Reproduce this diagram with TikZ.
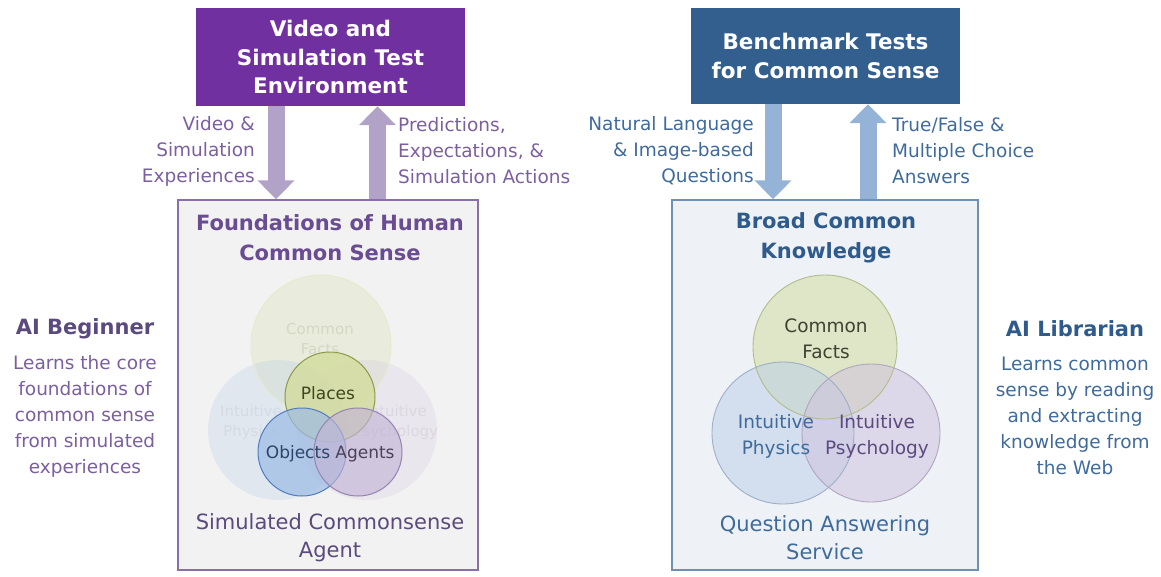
\documentclass[tikz,border=0pt]{standalone}
\usepackage{fontspec}
\setmainfont{DejaVu Sans}
\usetikzlibrary{arrows.meta}
\definecolor{envpurple}{HTML}{7030A0}
\definecolor{benchblue}{HTML}{335F8F}
\definecolor{arrowpurple}{HTML}{B3A2C7}
\definecolor{arrowblue}{HTML}{95B3D7}
\definecolor{textpurple}{HTML}{7B5F9F}
\definecolor{titlepurple}{HTML}{6A4C93}
\definecolor{darkpurple}{HTML}{5B4A7E}
\definecolor{textblue}{HTML}{3F6B9C}
\definecolor{titleblue}{HTML}{2F5B8C}
\definecolor{cfgreen}{HTML}{D2DDA2}
\definecolor{physblue}{HTML}{B9CEEA}
\definecolor{psychpurple}{HTML}{D0C3DF}
\definecolor{placesfill}{HTML}{D3DC9C}
\definecolor{placesline}{HTML}{8A9B47}
\definecolor{objfill}{HTML}{9DBBE5}
\definecolor{objline}{HTML}{4F7DC0}
\definecolor{agentfill}{HTML}{C3B5D6}
\definecolor{agentline}{HTML}{9583B0}
\begin{document}
\begin{tikzpicture}[x=1pt, y=-1pt,
  topbox/.style={text=white, font=\bfseries\fontsize{21.5}{28.5}\selectfont,
    align=center, minimum width=269, inner sep=0},
  bigbox/.style={line width=1.4pt, minimum height=370, inner sep=0},
  flowarrow/.style={line width=17pt, -{Triangle[width=36pt,length=19pt]}},
  lbl/.style={font=\fontsize{18.5}{26}\selectfont, inner sep=0},
  head/.style={font=\bfseries\fontsize{21}{30}\selectfont, align=center, inner sep=0},
  small/.style={font=\fontsize{17}{21}\selectfont, inner sep=0, align=center},
  faded/.style={font=\fontsize{15}{20}\selectfont, inner sep=0, align=center}]
\useasboundingbox (0,0) rectangle (1161,576);

% top boxes and the two agent boxes
\node[fill=envpurple, topbox, minimum height=98] (envbox) at (330.5,57) {Video and\\Simulation Test\\Environment};
\node[fill=benchblue, topbox, minimum height=96] (benchbox) at (825.5,56) {Benchmark Tests\\for Common Sense};
\node[bigbox, draw=textpurple!90, fill=black!5, minimum width=300] (agent) at (328,385) {};
\node[bigbox, draw=textblue!75, fill=titleblue!8, minimum width=306] (qa) at (825,385) {};

\draw[flowarrow, arrowpurple] ([xshift=-54.5]envbox.south) -- ([xshift=-54.5]envbox.south |- agent.north);
\draw[flowarrow, arrowpurple] ([xshift=47]envbox.south |- agent.north) -- ([xshift=47]envbox.south);
\draw[flowarrow, arrowblue] ([xshift=-52.5]benchbox.south) -- ([xshift=-52.5]benchbox.south |- qa.north);
\draw[flowarrow, arrowblue] ([xshift=42.5]benchbox.south |- qa.north) -- ([xshift=42.5]benchbox.south);

\node[lbl, text=textpurple, align=right, anchor=east] (vidlbl) at (255,151) {Video \&\\Simulation\\Experiences};
\node[lbl, text=textpurple, align=left, anchor=west] (predlbl) at (398,151) {Predictions,\\Expectations, \&\\Simulation Actions};
\node[lbl, text=textblue, align=right, anchor=east] (qlbl) at (754,151) {Natural Language\\\& Image-based\\Questions};
\node[lbl, text=textblue, align=left, anchor=west] (anslbl) at (892,151) {True/False \&\\Multiple Choice\\Answers};

\node[head, text=titlepurple] (fhcs) at (330,238) {Foundations of Human\\Common Sense};
\node[head, text=titleblue] (bck) at (826,238) {Broad Common\\Knowledge};

% left venn
\fill[cfgreen, fill opacity=.25] (321,345) circle (70);
\fill[physblue, fill opacity=.3] (278,430) circle (70);
\fill[psychpurple, fill opacity=.25] (367,430) circle (70);
\draw[cfgreen!60, line width=.8pt] (321,345) circle (70);
\node[faded, text=cfgreen!75!black!45] (cf1) at (320,339) {Common\\Facts};
\node[faded, text=physblue!80!black!40] (ip1) at (251,422) {Intuitive\\Physics};
\node[faded, text=psychpurple!80!black!40] (ps1) at (396,422) {Intuitive\\Psychology};
\fill[placesfill, fill opacity=.8] (330,397) circle (45);
\draw[placesline, line width=1pt] (330,397) circle (45);
\fill[objfill, fill opacity=.7] (302,452) circle (44);
\draw[objline, line width=1pt] (302,452) circle (44);
\fill[agentfill, fill opacity=.65] (358,452) circle (44);
\draw[agentline, line width=1pt] (358,452) circle (44);
\node[small, text=placesline!45!black] (places) at (328,393) {Places};
\node[small, text=objline!55!black] (objects) at (298,454) {Objects};
\node[small, text=agentline!50!black] (agents) at (365,454) {Agents};

% right venn
\fill[cfgreen, fill opacity=.55] (825,347) circle (72);
\fill[physblue, fill opacity=.5] (783,433) circle (71);
\fill[psychpurple, fill opacity=.55] (871,433) circle (69);
\draw[cfgreen!85!black, line width=.9pt] (825,347) circle (72);
\draw[physblue!85!black, line width=.9pt] (783,433) circle (71);
\draw[psychpurple!85!black, line width=.9pt] (871,433) circle (69);
\node[lbl, align=center, text=cfgreen!30!black] (cf2) at (826,339) {Common\\Facts};
\node[lbl, align=center, text=textblue] (ip2) at (776,436) {Intuitive\\Physics};
\node[lbl, align=center, text=darkpurple] (ps2) at (877,436) {Intuitive\\Psychology};

\node[lbl, font=\fontsize{21}{28}\selectfont, align=center, text=darkpurple] (simagent) at (330,538) {Simulated Commonsense\\Agent};
\node[lbl, font=\fontsize{21}{28}\selectfont, align=center, text=textblue] (qaserv) at (825,538) {Question Answering\\Service};

% side notes
\node[head, text=darkpurple] (beginner) at (85,329) {AI Beginner};
\node[lbl, align=center, text=textpurple] (begdesc) at (85,416) {Learns the core\\foundations of\\common sense\\from simulated\\experiences};
\node[head, text=titleblue] (librarian) at (1075,329) {AI Librarian};
\node[lbl, align=center, text=textblue] (libdesc) at (1075,416) {Learns common\\sense by reading\\and extracting\\knowledge from\\the Web};
\end{tikzpicture}
\end{document}
